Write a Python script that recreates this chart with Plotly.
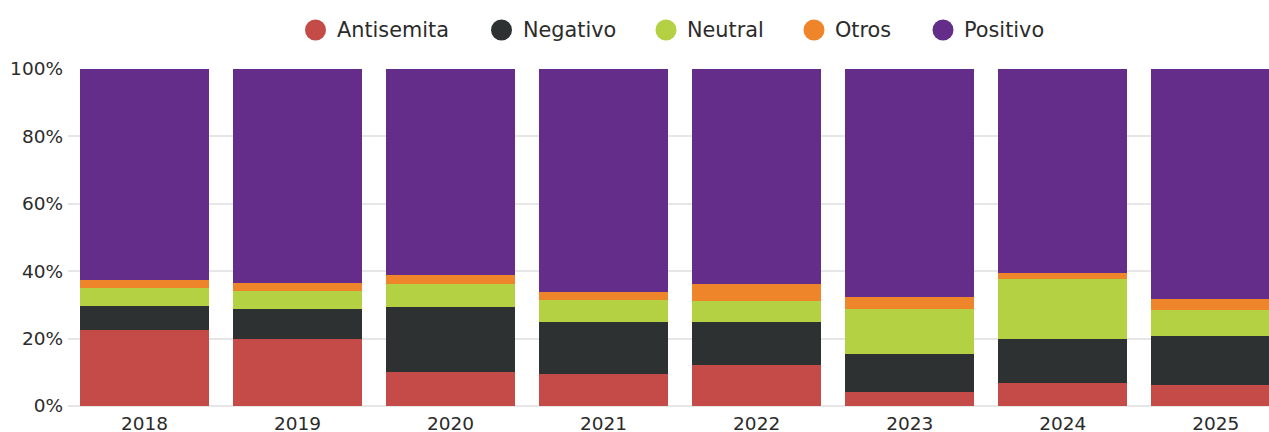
import plotly.graph_objects as go

years = ["2018", "2019", "2020", "2021", "2022", "2023", "2024", "2025"]
antisemita = [22.5, 19.9, 10.1, 9.5, 12.3, 4.1, 6.8, 6.1]
negativo = [7.2, 8.9, 19.3, 15.5, 12.5, 11.4, 13.0, 14.8]
neutral = [5.2, 5.4, 6.9, 6.4, 6.5, 13.3, 17.9, 7.5]
otros = [2.5, 2.2, 2.5, 2.3, 4.8, 3.4, 1.9, 3.4]
positivo = [62.6, 63.6, 61.2, 66.3, 63.9, 67.8, 60.4, 68.2]

series_names = ["Antisemita", "Negativo", "Neutral", "Otros", "Positivo"]
series_values = [antisemita, negativo, neutral, otros, positivo]
series_colors = ["#C44B48", "#2E3132", "#B4D143", "#EF852B", "#642D8A"]

y_ticks = [0, 20, 40, 60, 80, 100]
y_ticktext = ["0%", "20%", "40%", "60%", "80%", "100%"]

FONT = "DejaVu Sans"
TEXT_COLOR = "#2b2b2b"
W, H = 1269, 432
ML, MR, MT, MB = 68, 0, 69, 26
PW, PH = W - ML - MR, H - MT - MB

fig = go.Figure()
for name, vals, col in zip(series_names, series_values, series_colors):
    fig.add_trace(go.Bar(x=years, y=vals, name=name,
                         marker=dict(color=col, line=dict(width=0)),
                         hovertemplate="%{x}: %{y}%<extra>" + name + "</extra>"))

# Custom legend (circle + label), laid out in pixels like the reference
legend_circle_px = [315.5, 501.5, 666, 814, 943]
legend_y_px = 30
ly = (H - MB - legend_y_px) / PH
for name, col, cx in zip(series_names, series_colors, legend_circle_px):
    px = (cx - ML) / PW
    fig.add_shape(type="circle", xref="paper", yref="paper",
                  xsizemode="pixel", ysizemode="pixel",
                  xanchor=px, yanchor=ly, x0=-10.5, x1=10.5, y0=-10.5, y1=10.5,
                  fillcolor=col, line=dict(width=0), layer="above")
    fig.add_annotation(text=name, xref="paper", yref="paper",
                       x=(cx + 19 - ML) / PW, y=ly, xanchor="left", yanchor="middle",
                       showarrow=False, font=dict(family=FONT, size=20.8, color=TEXT_COLOR))

fig.update_layout(
    barmode="stack",
    bargap=0.159,
    showlegend=False,
    width=W, height=H,
    margin=dict(l=ML, r=MR, t=MT, b=MB, autoexpand=False),
    plot_bgcolor="white", paper_bgcolor="white",
    font=dict(family=FONT, size=18.5, color=TEXT_COLOR),
    xaxis=dict(range=[-0.5, 7.348], showgrid=False, ticks="", automargin=False,
               ticklabelstandoff=4, tickfont=dict(size=18.5)),
    yaxis=dict(range=[0, 100], tickvals=y_ticks, ticktext=y_ticktext, automargin=False,
               gridcolor="#e6e6e6", gridwidth=1.5, zeroline=True, zerolinecolor="#e6e6e6",
               zerolinewidth=1.5, ticks="", ticklabelstandoff=4, tickfont=dict(size=18.5)),
)
fig.write_html("out.html", config={"displayModeBar": False},
               post_script="document.body.style.margin='0';document.body.style.overflow='hidden';")
